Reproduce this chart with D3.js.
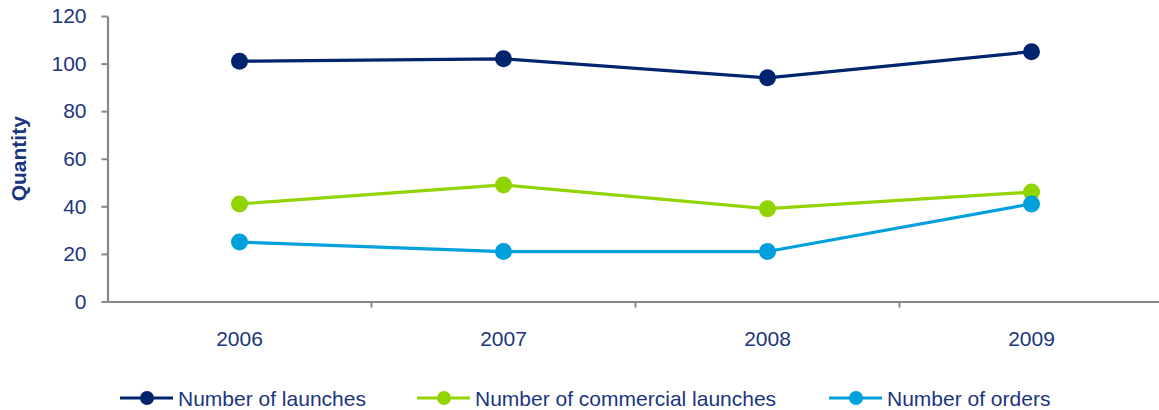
<!DOCTYPE html>
<html>
<head>
<meta charset="utf-8">
<script src="https://cdn.jsdelivr.net/npm/d3@7/dist/d3.min.js"></script>
<style>
  html, body { margin: 0; padding: 0; background: #fff; }
  svg { display: block; }
  text { font-family: "Liberation Sans", Arial, sans-serif; }
</style>
</head>
<body>
<svg id="chart" width="1159" height="410"></svg>
<script>
const years = ["2006", "2007", "2008", "2009"];
const launches = [101, 102, 94, 105];
const commercialLaunches = [41, 49, 39, 46];
const orders = [25, 21, 21, 41];
const yTicks = [0, 20, 40, 60, 80, 100, 120];
const seriesNames = ["Number of launches", "Number of commercial launches", "Number of orders"];
const seriesColors = ["#00256E", "#92D400", "#00A0DC"];

const series = [launches, commercialLaunches, orders].map((vals, i) => ({
  name: seriesNames[i], color: seriesColors[i], values: vals
}));

const svg = d3.select("#chart");
const textColor = "#1B3580";
const axisColor = "#878787";

const x = d3.scaleBand().domain(years).range([107.5, 1163.5]).padding(0);
const y = d3.scaleLinear().domain([0, 120]).range([301.5, 16]);

// Y axis
const yAxis = svg.append("g").attr("transform", "translate(107.5,0)")
  .call(d3.axisLeft(y).tickValues(yTicks).tickSize(6).tickPadding(15).tickSizeOuter(0));
yAxis.select(".domain").attr("stroke", axisColor).attr("stroke-width", 2.2);
yAxis.selectAll(".tick line").attr("stroke", axisColor).attr("stroke-width", 2);
yAxis.selectAll(".tick text").attr("fill", textColor).attr("font-size", 21)
  .attr("font-family", "Liberation Sans, Arial, sans-serif");

// X axis
const xAxis = svg.append("g").attr("transform", "translate(0,301.5)")
  .call(d3.axisBottom(x).tickSize(0).tickPadding(30).tickSizeOuter(0));
xAxis.select(".domain").attr("stroke", axisColor).attr("stroke-width", 2.2);
xAxis.selectAll(".tick text").attr("fill", textColor).attr("font-size", 21)
  .attr("font-family", "Liberation Sans, Arial, sans-serif");
// tick marks at category boundaries
svg.append("g").selectAll("line.bound")
  .data(years.slice(1))
  .join("line")
  .attr("x1", d => x(d)).attr("x2", d => x(d))
  .attr("y1", 301.5).attr("y2", 307.5)
  .attr("stroke", axisColor).attr("stroke-width", 2);

// Y axis title
svg.append("text")
  .attr("transform", `translate(25.5,${(y(0) + y(120)) / 2}) rotate(-90)`)
  .attr("text-anchor", "middle")
  .attr("font-size", 21).attr("font-weight", "bold")
  .attr("fill", textColor)
  .text("Quantity");

// Lines and markers
const line = d3.line()
  .x((d, i) => x(years[i]) + x.bandwidth() / 2)
  .y(d => y(d));

const g = svg.append("g");
series.forEach(s => {
  g.append("path").datum(s.values)
    .attr("d", line)
    .attr("fill", "none")
    .attr("stroke", s.color)
    .attr("stroke-width", 3.2)
    .attr("stroke-linejoin", "round");
});
series.forEach(s => {
  g.selectAll(null).data(s.values).join("circle")
    .attr("cx", (d, i) => x(years[i]) + x.bandwidth() / 2)
    .attr("cy", d => y(d))
    .attr("r", 8.5)
    .attr("fill", s.color);
});

// Legend
const legendX = [120, 417, 829];
const legend = svg.append("g");
series.forEach((s, i) => {
  const lg = legend.append("g").attr("transform", `translate(${legendX[i]},398)`);
  lg.append("line").attr("x1", 0).attr("x2", 53).attr("y1", 0).attr("y2", 0)
    .attr("stroke", s.color).attr("stroke-width", 3.2);
  lg.append("circle").attr("cx", 27).attr("cy", 0).attr("r", 7).attr("fill", s.color);
  lg.append("text").attr("x", 58).attr("y", 7.5)
    .attr("font-size", 21).attr("fill", textColor)
    .text(s.name);
});
</script>
</body>
</html>
